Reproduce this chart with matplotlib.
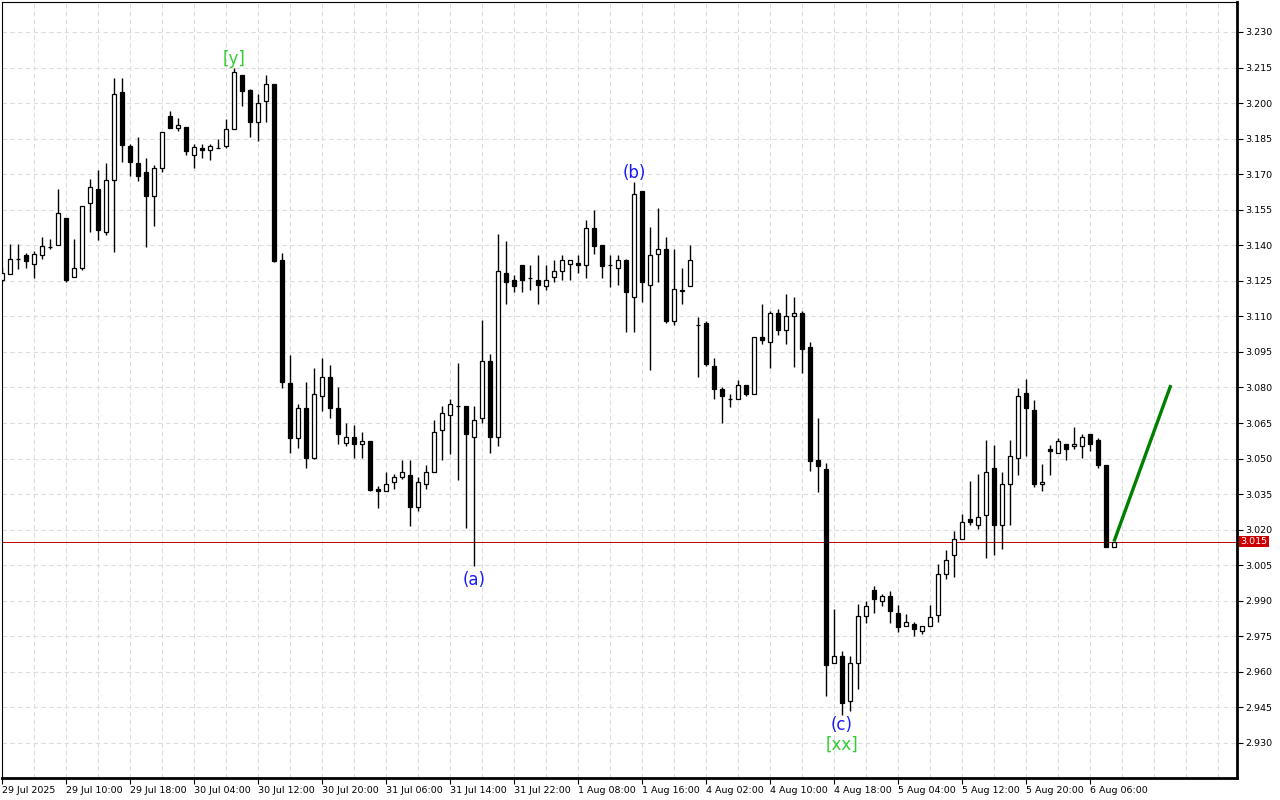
import matplotlib.pyplot as plt
from matplotlib.ticker import MultipleLocator, FormatStrFormatter
import numpy as np

# H1 candles, 29 Jul 2025 00:00 .. 6 Aug 09:00
opens = [3.1255, 3.1277, 3.1344, 3.1357, 3.1323, 3.1358, 3.1394, 3.1403, 3.1513, 3.1264,
         3.1306, 3.1577, 3.1637, 3.1454, 3.1674, 3.2046, 3.1817, 3.1745, 3.1707, 3.1606,
         3.1724, 3.1944, 3.1896, 3.1898, 3.1782, 3.1812, 3.1800, 3.1812, 3.1820, 3.1892,
         3.2120, 3.2053, 3.1922, 3.2010, 3.2082, 3.1338, 3.0818, 3.0585, 3.0715, 3.0503,
         3.0765, 3.0846, 3.0715, 3.0564, 3.0592, 3.0562, 3.0575, 3.0372, 3.0362, 3.0401,
         3.0421, 3.0431, 3.0297, 3.0392, 3.0443, 3.0619, 3.0684, 3.0723, 3.0723, 3.0591,
         3.0671, 3.0911, 3.0591, 3.1285, 3.1255, 3.1315, 3.1262, 3.1255, 3.1226, 3.1264,
         3.1293, 3.1323, 3.1324, 3.1315, 3.1474, 3.1403, 3.1315, 3.1306, 3.1336, 3.1183,
         3.1628, 3.1234, 3.1365, 3.1386, 3.1082, 3.1205, 3.1226, 3.1065, 3.1072, 3.0890,
         3.0793, 3.0752, 3.0752, 3.0810, 3.0771, 3.1013, 3.0991, 3.1114, 3.1041, 3.1103,
         3.1114, 3.0970, 3.0494, 3.0458, 2.9638, 2.9666, 2.9478, 2.9638, 2.9837, 2.9947,
         2.9901, 2.9918, 2.9850, 2.9792, 2.9802, 2.9771, 2.9792, 2.9839, 3.0014, 3.0094,
         3.0162, 3.0243, 3.0219, 3.0263, 3.0462, 3.0219, 3.0394, 3.0504, 3.0775, 3.0703,
         3.0394, 3.0542, 3.0525, 3.0563, 3.0553, 3.0553, 3.0605, 3.0577, 3.0474, 3.0128]
highs = [3.1310, 3.1405, 3.1405, 3.1367, 3.1377, 3.1433, 3.1425, 3.1637, 3.1513, 3.1426,
         3.1564, 3.1680, 3.1717, 3.1747, 3.2106, 3.2106, 3.1827, 3.1855, 3.1768, 3.1738,
         3.1877, 3.1965, 3.1936, 3.1898, 3.1827, 3.1829, 3.1829, 3.1850, 3.1931, 3.2150,
         3.2120, 3.2061, 3.2040, 3.2120, 3.2082, 3.1367, 3.0937, 3.0730, 3.0825, 3.0884,
         3.0926, 3.0894, 3.0803, 3.0651, 3.0643, 3.0613, 3.0575, 3.0383, 3.0444, 3.0433,
         3.0495, 3.0495, 3.0421, 3.0474, 3.0664, 3.0723, 3.0753, 3.0904, 3.0723, 3.0723,
         3.1083, 3.0942, 3.1447, 3.1416, 3.1276, 3.1315, 3.1315, 3.1357, 3.1315, 3.1336,
         3.1357, 3.1336, 3.1357, 3.1505, 3.1547, 3.1403, 3.1358, 3.1358, 3.1344, 3.1666,
         3.1628, 3.1477, 3.1556, 3.1433, 3.1386, 3.1306, 3.1403, 3.1097, 3.1080, 3.0924,
         3.0801, 3.0771, 3.0832, 3.0810, 3.1013, 3.1154, 3.1123, 3.1132, 3.1194, 3.1183,
         3.1124, 3.0991, 3.0671, 3.0480, 2.9866, 2.9690, 2.9666, 2.9887, 2.9901, 2.9961,
         2.9930, 2.9940, 2.9882, 2.9842, 2.9810, 2.9792, 2.9884, 3.0053, 3.0114, 3.0194,
         3.0265, 3.0406, 3.0434, 3.0578, 3.0558, 3.0445, 3.0577, 3.0797, 3.0835, 3.0745,
         3.0476, 3.0556, 3.0586, 3.0563, 3.0635, 3.0605, 3.0605, 3.0586, 3.0474, 3.0150]
lows = [3.1245, 3.1277, 3.1299, 3.1305, 3.1262, 3.1344, 3.1384, 3.1403, 3.1243, 3.1264,
        3.1296, 3.1454, 3.1423, 3.1444, 3.1372, 3.1753, 3.1693, 3.1672, 3.1393, 3.1482,
        3.1707, 3.1896, 3.1884, 3.1782, 3.1724, 3.1769, 3.1761, 3.1812, 3.1812, 3.1892,
        3.1988, 3.1857, 3.1840, 3.1922, 3.1328, 3.0796, 3.0524, 3.0546, 3.0461, 3.0496,
        3.0700, 3.0672, 3.0562, 3.0555, 3.0503, 3.0503, 3.0362, 3.0292, 3.0362, 3.0372,
        3.0413, 3.0217, 3.0279, 3.0371, 3.0443, 3.0492, 3.0520, 3.0410, 3.0209, 3.0045,
        3.0650, 3.0523, 3.0551, 3.1154, 3.1203, 3.1203, 3.1212, 3.1154, 3.1213, 3.1243,
        3.1255, 3.1255, 3.1283, 3.1262, 3.1365, 3.1262, 3.1224, 3.1233, 3.1034, 3.1034,
        3.1161, 3.0872, 3.1243, 3.1071, 3.1062, 3.1152, 3.1226, 3.0842, 3.0890, 3.0750,
        3.0649, 3.0719, 3.0752, 3.0763, 3.0771, 3.0983, 3.0880, 3.1021, 3.0983, 3.0888,
        3.0860, 3.0449, 3.0360, 2.9497, 2.9638, 2.9419, 2.9433, 2.9528, 2.9806, 2.9848,
        2.9879, 2.9806, 2.9770, 2.9792, 2.9750, 2.9760, 2.9792, 2.9809, 2.9992, 2.9999,
        3.0162, 3.0219, 3.0204, 3.0081, 3.0093, 3.0120, 3.0219, 3.0429, 3.0511, 3.0381,
        3.0363, 3.0429, 3.0525, 3.0494, 3.0539, 3.0501, 3.0532, 3.0459, 3.0128, 3.0128]
closes = [3.1285, 3.1344, 3.1344, 3.1334, 3.1364, 3.1395, 3.1394, 3.1534, 3.1254, 3.1306,
          3.1564, 3.1644, 3.1465, 3.1674, 3.2037, 3.1824, 3.1753, 3.1693, 3.1606, 3.1724,
          3.1877, 3.1896, 3.1906, 3.1796, 3.1816, 3.1800, 3.1820, 3.1812, 3.1892, 3.2133,
          3.2051, 3.1922, 3.2002, 3.2082, 3.1335, 3.0825, 3.0585, 3.0712, 3.0503, 3.0774,
          3.0846, 3.0715, 3.0605, 3.0592, 3.0562, 3.0575, 3.0369, 3.0362, 3.0393, 3.0424,
          3.0443, 3.0297, 3.0400, 3.0443, 3.0613, 3.0692, 3.0732, 3.0723, 3.0602, 3.0663,
          3.0911, 3.0591, 3.1291, 3.1243, 3.1226, 3.1255, 3.1262, 3.1234, 3.1255, 3.1293,
          3.1336, 3.1336, 3.1315, 3.1474, 3.1395, 3.1313, 3.1315, 3.1336, 3.1203, 3.1615,
          3.1243, 3.1357, 3.1386, 3.1079, 3.1214, 3.1213, 3.1336, 3.1065, 3.0901, 3.0793,
          3.0762, 3.0752, 3.0810, 3.0771, 3.1013, 3.1000, 3.1114, 3.1041, 3.1103, 3.1114,
          3.0962, 3.0491, 3.0470, 2.9629, 2.9666, 2.9467, 2.9638, 2.9837, 2.9879, 2.9907,
          2.9918, 2.9858, 2.9790, 2.9810, 2.9781, 2.9792, 2.9832, 3.0014, 3.0073, 3.0162,
          3.0234, 3.0234, 3.0255, 3.0445, 3.0219, 3.0394, 3.0512, 3.0766, 3.0715, 3.0394,
          3.0402, 3.0532, 3.0576, 3.0542, 3.0563, 3.0591, 3.0563, 3.0473, 3.0128, 3.0150]

date_labels = ['29 Jul 2025', '29 Jul 10:00', '29 Jul 18:00', '30 Jul 04:00', '30 Jul 12:00',
               '30 Jul 20:00', '31 Jul 06:00', '31 Jul 14:00', '31 Jul 22:00', '1 Aug 08:00',
               '1 Aug 16:00', '4 Aug 02:00', '4 Aug 10:00', '4 Aug 18:00', '5 Aug 04:00',
               '5 Aug 12:00', '5 Aug 20:00', '6 Aug 06:00']
bars_per_label = 8

# forecast line
proj_x = [139, 146.1]
proj_y = [3.015, 3.081]
last_price = 3.015

# wave marks
wave_bars = [29, 79, 59, 105, 105]
wave_text = ['[y]', '(b)', '(a)', '(c)', '[xx]']
wave_side = ['high', 'high', 'low', 'low', 'low']
wave_color = ['#33cc33', '#1a1aff', '#1a1aff', '#1a1aff', '#33cc33']
wave_off = [0, 0, -3, -1, -15]

fig = plt.figure(figsize=(12.8, 8), dpi=100)
ax = fig.add_axes([2 / 1280, 22 / 800, 1235 / 1280, 776 / 800])

x = np.arange(len(opens))
o = np.array(opens)
c = np.array(closes)
up = c >= o
bottom = np.minimum(o, c)
height = np.abs(c - o)

ax.vlines(x, lows, highs, color='black', lw=1.0, zorder=2)
ax.bar(x[up], height[up], bottom=bottom[up], width=0.6, color='white',
       edgecolor='black', lw=0.9, zorder=3)
ax.bar(x[~up], height[~up], bottom=bottom[~up], width=0.6, color='black',
       edgecolor='black', lw=0.9, zorder=3)

ax.plot(proj_x, proj_y, color='#008000', lw=2.4, zorder=4, solid_capstyle='butt')
ax.axhline(last_price, color='#c00000', lw=0.7, zorder=1)

for b, t, s, col, off in zip(wave_bars, wave_text, wave_side, wave_color, wave_off):
    yv = highs[b] if s == 'high' else lows[b]
    ax.annotate(t, (b, yv), xytext=(0, off), textcoords='offset points',
                ha='center', va='bottom' if s == 'high' else 'top',
                color=col, fontsize=12, zorder=5)

ax.set_xlim(0, 1235 / 8)
ax.set_ylim(2.91521, 3.24264)

# axes, ticks, grid
ax.yaxis.tick_right()
ax.set_yticks(np.arange(2.930, 3.2301, 0.015))
ax.yaxis.set_major_formatter(FormatStrFormatter('%.3f'))
ax.set_xticks(np.arange(0, len(opens), bars_per_label))
ax.set_xticklabels(date_labels)
for lab in ax.get_xticklabels():
    lab.set_horizontalalignment('left')
ax.xaxis.set_minor_locator(MultipleLocator(4))
ax.tick_params(axis='both', which='major', length=4, width=0.8, labelsize=6.8, pad=2)
ax.tick_params(axis='x', which='minor', length=0)
ax.grid(which='both', axis='x', color='#dddddd', ls=(0, (4, 3)), lw=0.8)
ax.grid(which='major', axis='y', color='#dddddd', ls=(0, (4, 3)), lw=0.8)
ax.set_axisbelow(True)

for side in ['left', 'top']:
    ax.spines[side].set_linewidth(0.8)
for side in ['right', 'bottom']:
    ax.spines[side].set_linewidth(2)

ax.text(1.0025, last_price, f'{last_price:.3f}', transform=ax.get_yaxis_transform(),
        ha='left', va='center', fontsize=6.8, color='white', zorder=6,
        bbox=dict(boxstyle='square,pad=0.15', facecolor='#cc0000', edgecolor='none'))

fig.savefig('out.png', dpi=100)
